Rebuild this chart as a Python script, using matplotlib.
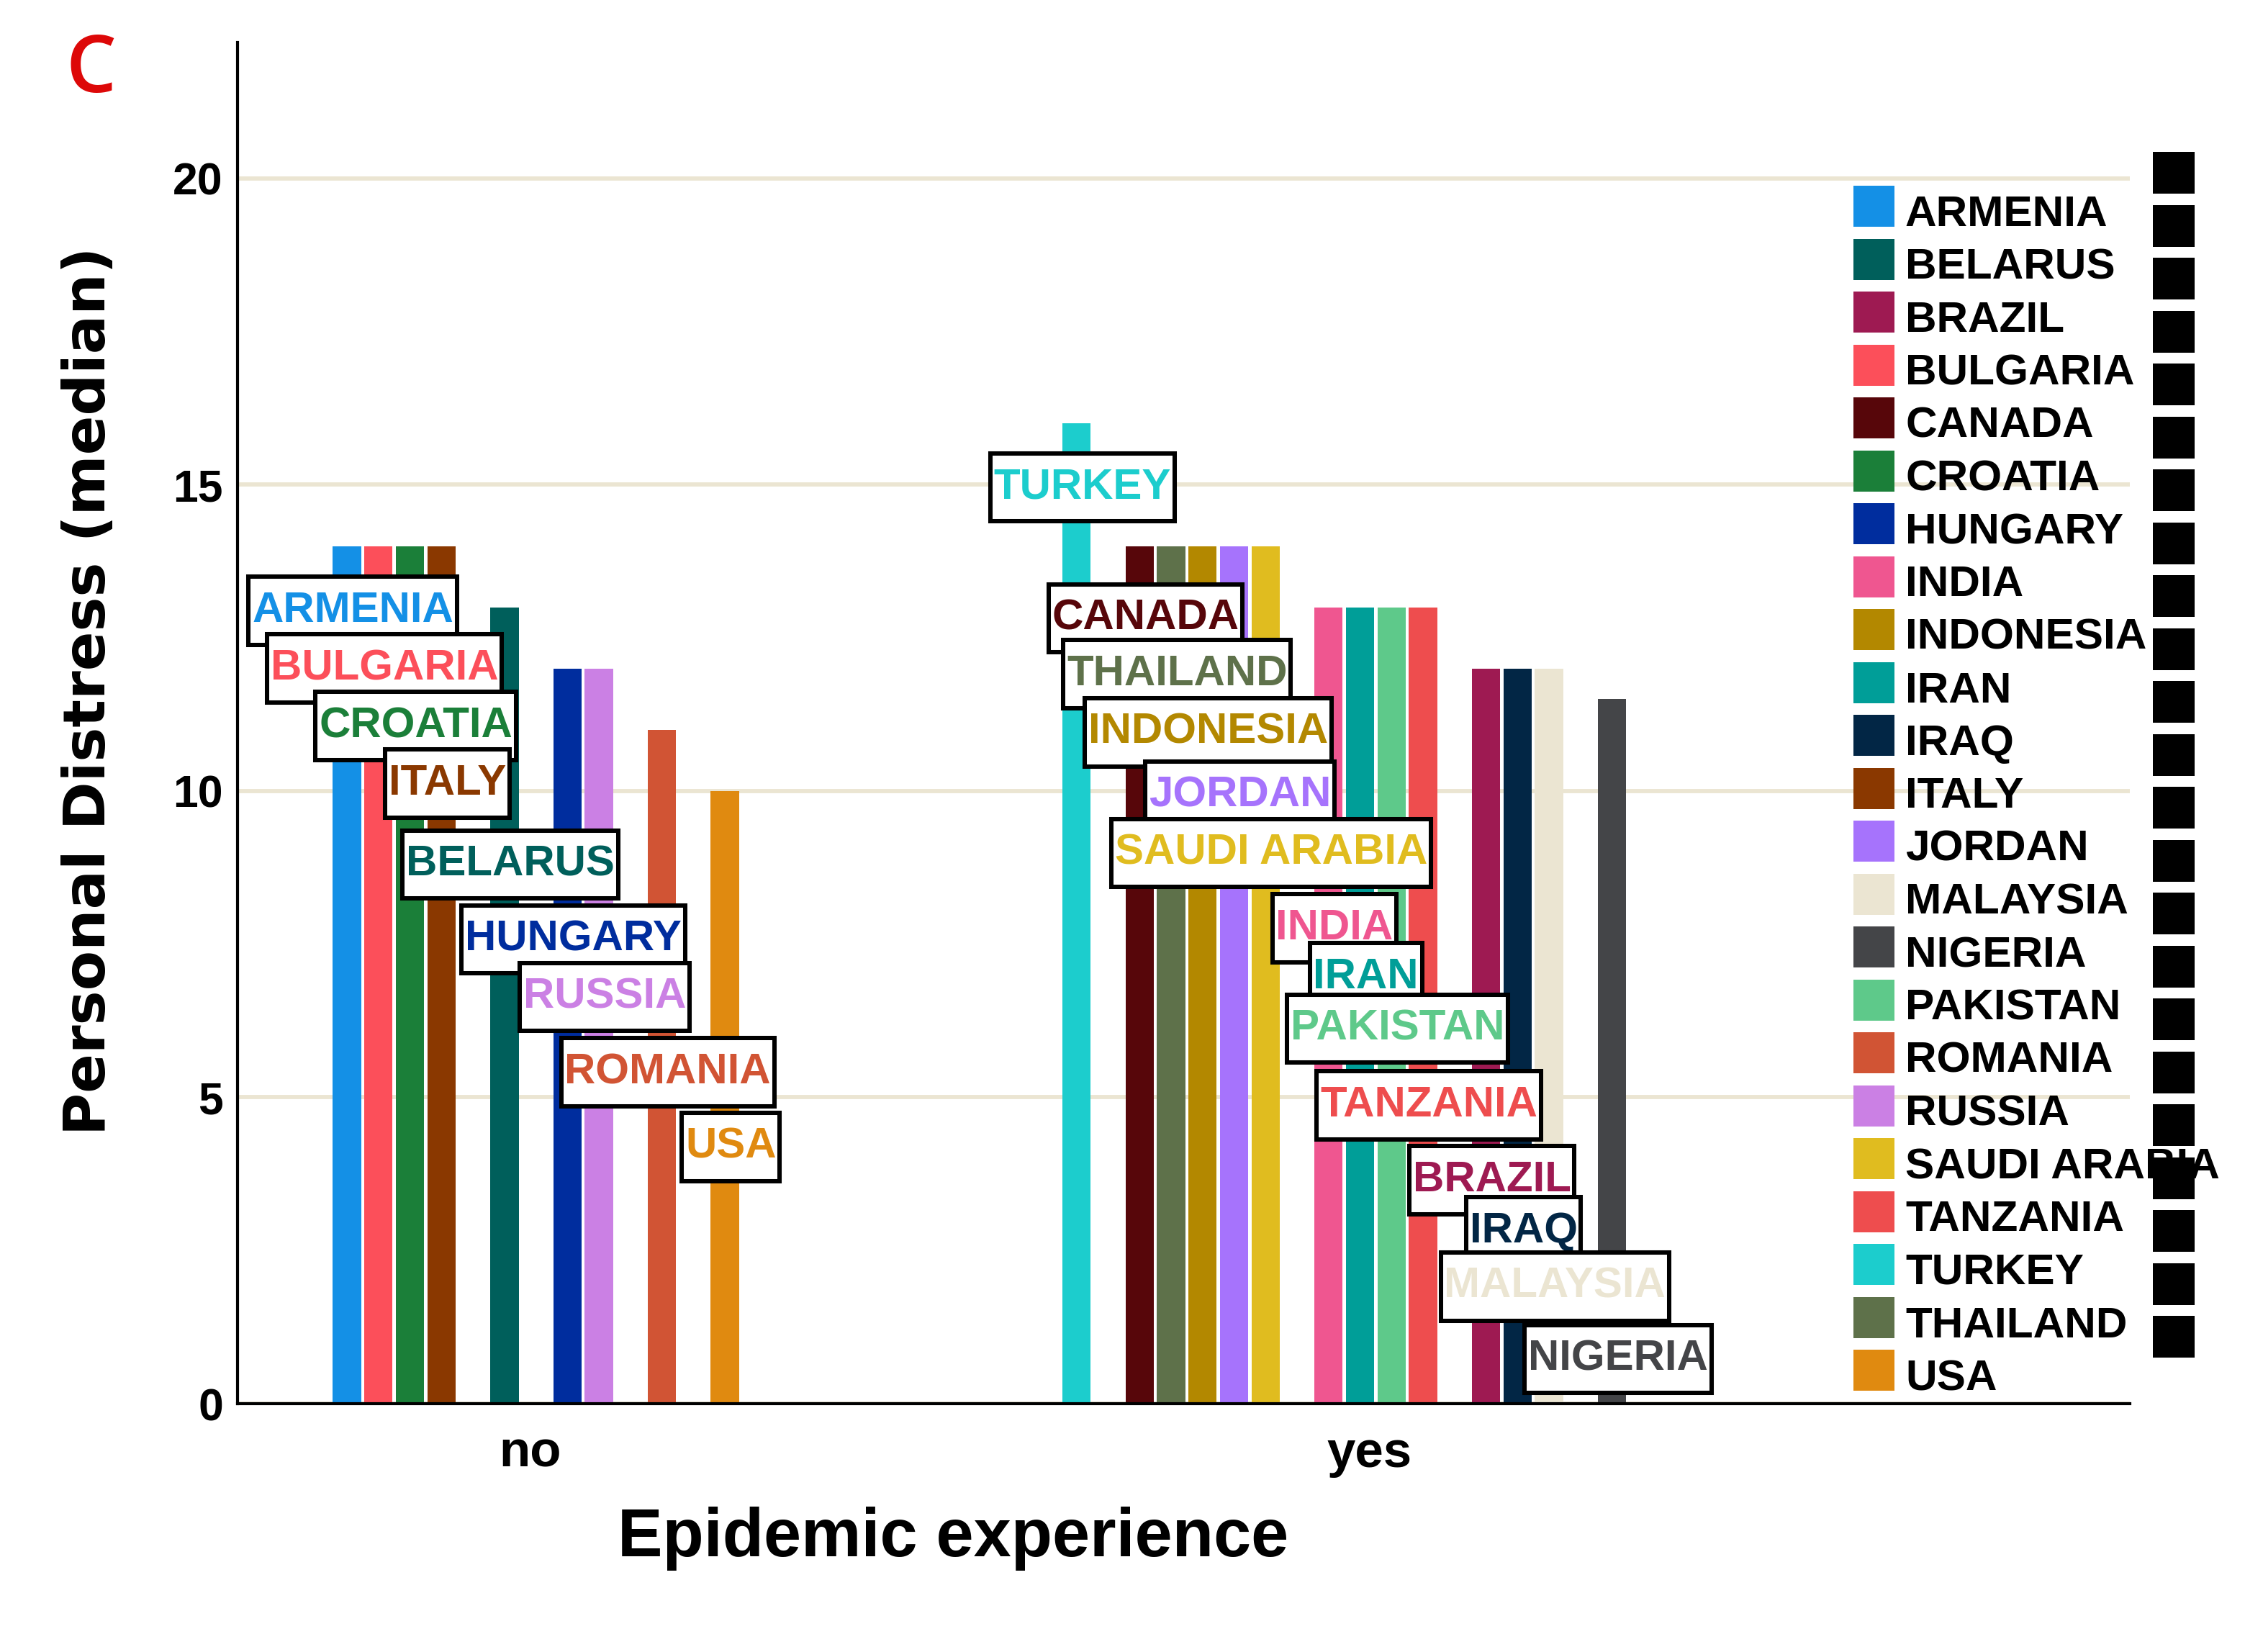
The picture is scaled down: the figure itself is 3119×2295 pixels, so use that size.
import matplotlib
matplotlib.use("Agg")
import matplotlib.pyplot as plt
from matplotlib.patches import Rectangle
from matplotlib.path import Path

# ---------------- data ----------------
legend_countries = ["ARMENIA", "BELARUS", "BRAZIL", "BULGARIA", "CANADA", "CROATIA",
                    "HUNGARY", "INDIA", "INDONESIA", "IRAN", "IRAQ", "ITALY", "JORDAN",
                    "MALAYSIA", "NIGERIA", "PAKISTAN", "ROMANIA", "RUSSIA",
                    "SAUDI ARABIA", "TANZANIA", "TURKEY", "THAILAND", "USA"]
legend_colors = ["#1490E6", "#005F5B", "#9E1A52", "#FC4F5A", "#57060A", "#1B7F39",
                 "#002D9E", "#EF5690", "#B38800", "#009E98", "#022645", "#8A3800",
                 "#A673FC", "#EBE5D2", "#444548", "#5EC98A", "#D15434", "#CB80E4",
                 "#E0BC1F", "#EE4D4E", "#1CCDCD", "#5E714A", "#E08A10"]

categories = ["no", "yes"]

no_countries = ["ARMENIA", "BULGARIA", "CROATIA", "ITALY", "BELARUS", "HUNGARY",
                "RUSSIA", "ROMANIA", "USA"]
no_values = [14, 14, 14, 14, 13, 12, 12, 11, 10]
no_label_y = [12.94, 12.0, 11.06, 10.12, 8.8, 7.58, 6.64, 5.41, 4.19]

yes_countries = ["TURKEY", "CANADA", "THAILAND", "INDONESIA", "JORDAN", "SAUDI ARABIA",
                 "INDIA", "IRAN", "PAKISTAN", "TANZANIA", "BRAZIL", "IRAQ", "MALAYSIA",
                 "NIGERIA"]
yes_values = [16, 14, 14, 14, 14, 14, 13, 13, 13, 13, 12, 12, 12, 11.5]
yes_label_y = [14.96, 12.82, 11.91, 10.96, 9.93, 8.99, 7.76, 6.96, 6.12, 4.87, 3.65,
               2.82, 1.91, 0.73]

y_ticks = [0, 5, 10, 15, 20]

# ---------------- style ----------------
W, H = 3119, 2295
GRID = "#EBE5D2"
SANS = ["Liberation Sans", "DejaVu Sans"]
color_of = dict(zip(legend_countries, legend_colors))
LABEL_FS = 14.4
LEGEND_FS = 14.5


def label_box(x0, y0, width, height, mutation_size, *args):
    """Rectangular label box: generous vertical padding, small horizontal padding."""
    px = 0.08 * mutation_size
    py = 0.33 * mutation_size
    x0, y0 = x0 - px, y0 - py
    x1, y1 = x0 + width + 2 * px, y0 + height + 2 * py
    return Path([(x0, y0), (x1, y0), (x1, y1), (x0, y1), (x0, y0)], closed=True)


fig = plt.figure(figsize=(W / 300, H / 300), dpi=300)
L, R, T, B = 330, 2959, 59, 1950
ax = fig.add_axes([L / W, 1 - B / H, (R - L) / W, (B - T) / H])

slot_w = 0.0375
group_start = [-0.2177, -0.349]   # offset of first bar relative to category tick


def slots(values):
    out, s = [], 0
    for i, v in enumerate(values):
        if i > 0:
            s += 1 if v == values[i - 1] else 2
        out.append(s)
    return out


groups = [(no_countries, no_values, no_label_y), (yes_countries, yes_values, yes_label_y)]
for gi, (names, vals, laby) in enumerate(groups):
    base = gi + 1 + group_start[gi]
    xs = [base + s * slot_w for s in slots(vals)]
    ax.bar(xs, vals, width=0.9 * slot_w, color=[color_of[n] for n in names],
           zorder=2, linewidth=0)
    for x, n, ly in zip(xs, names, laby):
        ax.text(x + 0.007, ly, n, ha="center", va="center", color=color_of[n],
                fontsize=LABEL_FS, fontweight="bold", family=SANS, zorder=5,
                bbox=dict(boxstyle=label_box, fc="white", ec="black", lw=1.45))

ax.set_xlim(0.652, 2.905)
ax.set_ylim(0, 22.22)
ax.set_yticks(y_ticks)
ax.set_yticklabels([str(t) for t in y_ticks])
ax.set_xticks([1, 2])
ax.set_xticklabels(categories)
ax.yaxis.grid(True, color=GRID, lw=1.4, zorder=0)
ax.xaxis.grid(False)
ax.set_axisbelow(True)
for s in ["top", "right"]:
    ax.spines[s].set_visible(False)
for s in ["left", "bottom"]:
    ax.spines[s].set_linewidth(1.0)
    ax.spines[s].set_color("black")
ax.tick_params(axis="both", length=0)
ax.tick_params(axis="y", pad=4.8)
ax.tick_params(axis="x", pad=8.8)
for lab in ax.get_yticklabels():
    lab.set_fontfamily(SANS)
    lab.set_fontweight("bold")
    lab.set_fontsize(15)
for lab in ax.get_xticklabels():
    lab.set_fontfamily(SANS)
    lab.set_fontweight("bold")
    lab.set_fontsize(17)

# axis titles
fig.text(1324 / W, 1 - 2138 / H, "Epidemic experience", ha="center", va="center",
         fontsize=22.5, fontweight="bold", family=SANS)
fig.text(124 / W, 1 - 960 / H, "Personal Distress (median)", ha="center", va="center",
         rotation=90, fontsize=19.4, fontweight="bold", family="DejaVu Sans")

# panel letter
fig.text(127 / W, 1 - 128 / H, "C", ha="center", va="baseline", color="#DD0808",
         fontsize=26.5, family=["Open Sans", "DejaVu Sans"], fontweight="semibold")

# legend (drawn manually)
row_h = 73.5
key = 57
key_left = 2575
txt_left = 2647
first_c = 286.5
for i, (n, c) in enumerate(zip(legend_countries, legend_colors)):
    cy = first_c + i * row_h
    fig.add_artist(Rectangle((key_left / W, 1 - (cy + key / 2) / H), key / W, key / H,
                             transform=fig.transFigure, fc=c, ec="none", zorder=6))
    fig.text(txt_left / W, 1 - (cy + key / 2 - 1) / H, n, ha="left", va="baseline",
             fontsize=LEGEND_FS, fontweight="bold", family=SANS, color="black", zorder=7)

# column of black squares on the far right
sq = 58
for i in range(len(legend_countries)):
    cy = first_c - 46.5 + i * row_h
    fig.add_artist(Rectangle((2991 / W, 1 - (cy + sq / 2) / H), sq / W, sq / H,
                             transform=fig.transFigure, fc="black", ec="none", zorder=8))

fig.savefig("out.png", dpi=300, facecolor="white")
